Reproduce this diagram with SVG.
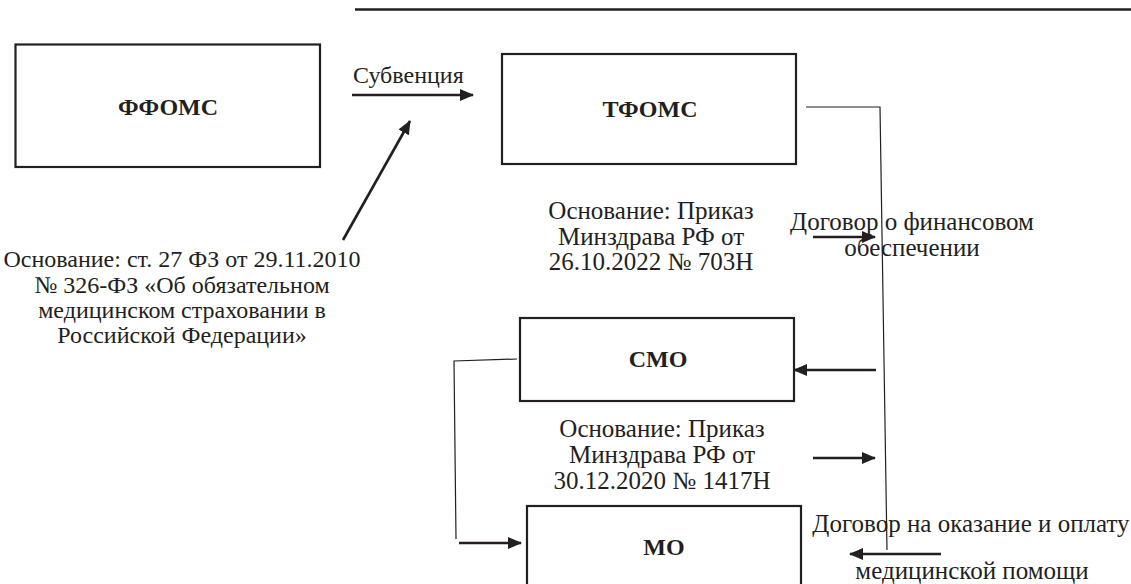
<svg xmlns="http://www.w3.org/2000/svg" width="1131" height="584" viewBox="0 0 1131 584">
<style>
.box{fill:#fff;stroke:#231f20;stroke-width:2.2}
.lbl{font-family:"Liberation Serif","Times New Roman",serif;font-weight:bold;font-size:24px;fill:#231f20;text-anchor:middle}
.txt{font-family:"Liberation Serif","Times New Roman",serif;font-size:25px;fill:#231f20}
.mid{text-anchor:middle}
.arr{stroke:#231f20;stroke-width:2.6;fill:none;marker-end:url(#ah)}
.thin{stroke:#231f20;stroke-width:1.2;fill:none}
</style>
<defs>
<marker id="ah" markerUnits="userSpaceOnUse" markerWidth="14" markerHeight="12" refX="13" refY="6" orient="auto">
<path d="M0,0 L14,6 L0,12 z" fill="#231f20"/>
</marker>
</defs>
<rect width="1131" height="584" fill="#fff"/>
<line x1="355" y1="9.5" x2="1131" y2="9.5" stroke="#231f20" stroke-width="2.5"/>
<g id="ffoms">
<rect class="box" x="15.5" y="44.5" width="304.5" height="122.5"/>
<text class="lbl" x="168" y="115">ФФОМС</text>
</g>
<g id="tfoms">
<rect class="box" x="502" y="54" width="294" height="110"/>
<text class="lbl" x="650" y="117">ТФОМС</text>
</g>
<g id="smo">
<rect class="box" x="520" y="318" width="274" height="83"/>
<text class="lbl" x="658" y="367">СМО</text>
</g>
<g id="mo">
<rect class="box" x="527" y="506" width="274" height="100"/>
<text class="lbl" x="664" y="555">МО</text>
</g>
<g id="labels">
<text class="txt" x="353" y="83" style="font-size:24px">Субвенция</text>
<text class="txt mid" x="182" style="font-size:24px"><tspan x="182" y="267">Основание: ст. 27 ФЗ от 29.11.2010</tspan><tspan x="182" y="292.5">№ 326-ФЗ «Об обязательном</tspan><tspan x="182" y="318">медицинском страховании в</tspan><tspan x="182" y="343">Российской Федерации»</tspan></text>
<text class="txt mid"><tspan x="651" y="219">Основание: Приказ</tspan><tspan x="651" y="244.5">Минздрава РФ от</tspan><tspan x="651" y="270">26.10.2022 № 703Н</tspan></text>
<text class="txt mid"><tspan x="662" y="437">Основание: Приказ</tspan><tspan x="662" y="463">Минздрава РФ от</tspan><tspan x="662" y="489">30.12.2020 № 1417Н</tspan></text>
<text class="txt mid"><tspan x="912" y="230">Договор о финансовом</tspan><tspan x="912" y="256">обеспечении</tspan></text>
<text class="txt mid" x="971" y="532">Договор на оказание и оплату</text>
<text class="txt mid" x="972" y="579">медицинской помощи</text>
</g>
<g id="connectors">
<line class="arr" x1="352" y1="95" x2="473" y2="95"/>
<line class="arr" x1="343" y1="240" x2="410" y2="121"/>
<polyline class="thin" points="806,107 880,107 887,550"/>
<polyline class="thin" points="517,359 454,361 456,539"/>
<line class="arr" x1="459" y1="543" x2="521" y2="543"/>
<line class="arr" x1="813" y1="237" x2="875" y2="237"/>
<line class="arr" x1="876" y1="370" x2="794" y2="370"/>
<line class="arr" x1="813" y1="458" x2="875" y2="458"/>
<line class="arr" x1="941" y1="554" x2="850" y2="554"/>
</g>
</svg>
